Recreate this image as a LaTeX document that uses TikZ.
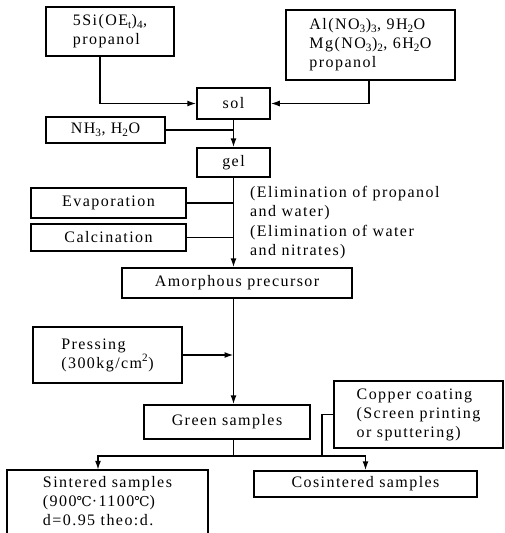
\documentclass[tikz,border=0pt]{standalone}
\usepackage{fontspec}
\setmainfont{Liberation Serif}[LetterSpace=9]
\newfontfamily\djv{DejaVu Serif}[Scale=0.85]
\usetikzlibrary{arrows.meta}
\newcommand{\degc}{{\djv ℃}}
\begin{document}
\begin{tikzpicture}[x=1pt,y=-1pt,
  font=\fontsize{16}{19}\selectfont,
  box/.style={draw, line width=1.5pt, inner sep=0pt, align=center},
  ln/.style={line width=1.5pt},
  arr/.style={ln, -{Latex[length=9pt,width=6pt]}},
  txt/.style={inner sep=0pt, align=left, anchor=west}]
\useasboundingbox (0,0) rectangle (504,533);
% boxes
\node[box, align=left, minimum width=128pt, minimum height=49pt] (si) at (110,31.5)
  {5Si(OE\textsubscript{t})\textsubscript{4},\\propanol};
\node[box, align=left, minimum width=169pt, minimum height=70pt] (al) at (370.5,45)
  {Al(NO\textsubscript{3})\textsubscript{3}, 9H\textsubscript{2}O\\Mg(NO\textsubscript{3})\textsubscript{2}, 6H\textsubscript{2}O\\propanol};
\node[box, minimum width=73pt, minimum height=31pt] (sol) at (233.5,103.5) {sol};
\node[box, minimum width=119pt, minimum height=26pt] (nh) at (105.5,130)
  {NH\textsubscript{3}, H\textsubscript{2}O};
\node[box, minimum width=73pt, minimum height=29pt] (gel) at (233.5,162.5) {gel};
\node[box, minimum width=155pt, minimum height=30pt] (evap) at (108.5,203) {Evaporation};
\node[box, minimum width=155pt, minimum height=27pt] (calc) at (108.5,237.5) {Calcination};
\node[txt] (el1) at (250,203.5) {(Elimination of propanol\\and water)};
\node[txt] (el2) at (250,242) {(Elimination of water\\and nitrates)};
\node[box, minimum width=230pt, minimum height=30pt] (amor) at (237,283) {Amorphous precursor};
\node[box, align=left, minimum width=149pt, minimum height=56pt] (press) at (107.5,355)
  {Pressing\\(300kg/cm\textsuperscript{2})};
\node[box, minimum width=166pt, minimum height=34pt] (green) at (227,422) {Green samples};
\node[box, align=left, minimum width=169pt, minimum height=67pt] (copper) at (418.5,414.5)
  {Copper coating\\(Screen printing\\or sputtering)};
\node[inner sep=0pt, align=left, minimum width=201pt, minimum height=63pt] (sint) at (107.5,501.5)
  {Sintered samples\\(900\degc{}·1100\degc{})\\d=0.95 theo:d.};
\draw[ln] (sint.south west) -- (sint.north west) -- (sint.north east) -- (sint.south east);
\node[box, minimum width=223pt, minimum height=26pt] (cos) at (365.5,484) {Cosintered samples};
% connectors
\coordinate (split) at (233.5,456);
\coordinate (cj) at (322,456);
\draw[arr] ([xshift=-10pt]si.south) |- (sol.west);
\draw[arr] ([xshift=-1.5pt]al.south) |- (sol.east);
\draw[arr] (sol.south) -- (gel.north);
\draw[ln] (nh.east) -- (nh.east -| gel.north);
\draw[arr] (gel.south) -- (gel.south |- amor.north);
\draw[ln] (evap.east) -- (evap.east -| gel.south);
\draw[ln] (calc.east) -- (calc.east -| gel.south);
\draw[arr] (gel.south |- amor.south) -- (gel.south |- green.north);
\draw[arr] (press.east) -- (press.east -| gel.south);
\draw[ln] (gel.south |- green.south) -- (split);
\draw[arr] (split) -| ([xshift=-9.5pt]sint.north);
\draw[arr] (split) -| (cos.north);
\draw[ln] (copper.west) -| (cj);
\end{tikzpicture}
\end{document}
